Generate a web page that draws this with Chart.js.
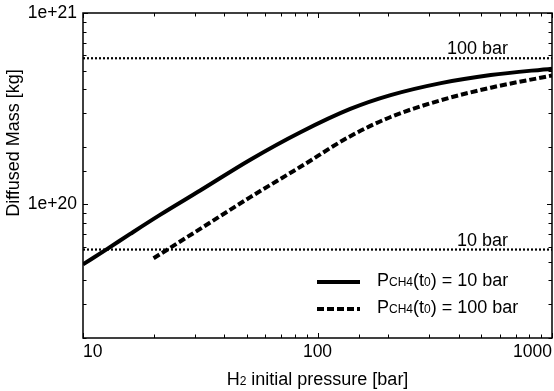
<!DOCTYPE html>
<html>
<head>
<meta charset="utf-8">
<script src="https://cdn.jsdelivr.net/npm/chart.js@4"></script>
<style>
  body { margin: 0; background: #fff; }
</style>
</head>
<body>
<canvas id="chart" width="554" height="391"></canvas>
<script>
// H2 initial pressure [bar] vs diffused mass [kg]
const pressureLow = [10, 12.7, 15.9, 21.3, 31.6, 51.7, 84.6, 138, 205, 336, 548, 1000];
const massLow = [4.85e19, 5.85e19, 7.0e19, 8.8e19, 1.18e20, 1.71e20, 2.38e20, 3.15e20, 3.72e20, 4.3e20, 4.74e20, 5.12e20];
const pressureHigh = [20, 31.6, 51.7, 84.6, 138, 205, 336, 548, 1000];
const massHigh = [5.22e19, 7.44e19, 1.09e20, 1.57e20, 2.27e20, 2.86e20, 3.5e20, 4.07e20, 4.71e20];

const refLevels = [5.8e20, 5.8e19];
const refLabels = ["100 bar", "10 bar"];

// legend text pieces: [text, small?]
const legendLow = [["P", 0], ["CH4", 1], ["(t", 0], ["0", 1], [") = 10 bar", 0]];
const legendHigh = [["P", 0], ["CH4", 1], ["(t", 0], ["0", 1], [") = 100 bar", 0]];
const xTitle = [["H", 0], ["2", 1], [" initial pressure [bar]", 0]];
const yTitle = "Diffused Mass [kg]";

const FONT = '"Liberation Sans", Arial, Helvetica, sans-serif';

const isPow10 = v => {
  const l = Math.log10(v);
  return Math.abs(l - Math.round(l)) < 1e-6;
};

const pts = (xs, ys) => xs.map((x, i) => ({ x, y: ys[i] }));

function drawPieces(ctx, pieces, x, y, align) {
  const big = "18px " + FONT, small = "12px " + FONT;
  let w = 0;
  pieces.forEach(([t, s]) => { ctx.font = s ? small : big; w += ctx.measureText(t).width; });
  let cx = align === "center" ? x - w / 2 : x;
  ctx.textAlign = "left";
  ctx.textBaseline = "alphabetic";
  pieces.forEach(([t, s]) => {
    ctx.font = s ? small : big;
    ctx.fillText(t, cx, y);
    cx += ctx.measureText(t).width;
  });
}

const decor = {
  id: "decor",
  afterDraw(chart) {
    const ctx = chart.ctx;
    const a = chart.chartArea;
    const xs = chart.scales.x, ys = chart.scales.y;
    ctx.save();
    ctx.strokeStyle = "#000";
    ctx.fillStyle = "#000";

    // frame
    ctx.lineWidth = 1.5;
    ctx.strokeRect(a.left, a.top, a.right - a.left, a.bottom - a.top);

    // inward tick marks on all sides
    ctx.lineWidth = 1;
    ctx.beginPath();
    xs.ticks.forEach(t => {
      const p = Math.round(xs.getPixelForValue(t.value)) + 0.5;
      const len = isPow10(t.value) ? 5 : 3.5;
      ctx.moveTo(p, a.bottom); ctx.lineTo(p, a.bottom - len);
      ctx.moveTo(p, a.top); ctx.lineTo(p, a.top + len);
    });
    ys.ticks.forEach(t => {
      const p = Math.round(ys.getPixelForValue(t.value)) + 0.5;
      const len = isPow10(t.value) ? 5 : 3.5;
      ctx.moveTo(a.left, p); ctx.lineTo(a.left + len, p);
      ctx.moveTo(a.right, p); ctx.lineTo(a.right - len, p);
    });
    ctx.stroke();

    // reference line labels
    ctx.font = "18px " + FONT;
    ctx.textAlign = "right";
    ctx.textBaseline = "alphabetic";
    refLevels.forEach((lv, i) => {
      ctx.fillText(refLabels[i], a.right - 44, ys.getPixelForValue(lv) - 4);
    });

    // legend
    const rows = [[legendLow, []], [legendHigh, [7, 3]]];
    rows.forEach(([pieces, dash], i) => {
      const y = a.bottom - 56 + i * 27;
      ctx.setLineDash(dash);
      ctx.lineWidth = 4;
      ctx.beginPath();
      ctx.moveTo(a.right - 235, y);
      ctx.lineTo(a.right - 192, y);
      ctx.stroke();
      ctx.setLineDash([]);
      drawPieces(ctx, pieces, a.right - 175, y + 3.5, "left");
    });

    // axis titles
    drawPieces(ctx, xTitle, (a.left + a.right) / 2, 385, "center");
    ctx.translate(19, 143);
    ctx.rotate(-Math.PI / 2);
    ctx.font = "18px " + FONT;
    ctx.textAlign = "center";
    ctx.textBaseline = "alphabetic";
    ctx.fillText(yTitle, 0, 0);
    ctx.restore();
  }
};

const refSet = lv => ({
  data: pts([10, 1000], [lv, lv]),
  borderColor: "#000",
  borderWidth: 2.2,
  borderDash: [2, 2],
  pointRadius: 0,
  fill: false
});

new Chart(document.getElementById("chart"), {
  type: "line",
  data: {
    datasets: [
      refSet(refLevels[0]),
      refSet(refLevels[1]),
      {
        data: pts(pressureLow, massLow),
        borderColor: "#000",
        borderWidth: 4,
        pointRadius: 0,
        cubicInterpolationMode: "monotone",
        fill: false
      },
      {
        data: pts(pressureHigh, massHigh),
        borderColor: "#000",
        borderWidth: 4,
        borderDash: [7, 3],
        pointRadius: 0,
        cubicInterpolationMode: "monotone",
        fill: false
      }
    ]
  },
  options: {
    responsive: false,
    animation: false,
    layout: { padding: { top: 13, right: 2, bottom: 0, left: 0 } },
    plugins: {
      legend: { display: false },
      tooltip: { enabled: false }
    },
    scales: {
      x: {
        type: "logarithmic",
        min: 10,
        max: 1000,
        grid: { display: false, drawTicks: false },
        border: { display: false },
        ticks: {
          autoSkip: false,
          maxRotation: 0,
          align: "inner",
          padding: 4,
          color: "#000",
          font: { family: FONT, size: 17.5 },
          callback: v => isPow10(v) ? String(Math.round(v)) : ""
        },
        afterFit(s) { s.height = 53; s.paddingLeft = 0; s.paddingRight = 0; }
      },
      y: {
        type: "logarithmic",
        min: 2e19,
        max: 1e21,
        grid: { display: false, drawTicks: false },
        border: { display: false },
        ticks: {
          autoSkip: false,
          padding: 6,
          color: "#000",
          font: { family: FONT, size: 17.5 },
          callback: v => isPow10(v) ? v.toExponential(0) : ""
        },
        afterFit(s) { s.width = 83; s.paddingTop = 0; s.paddingBottom = 0; }
      }
    }
  },
  plugins: [decor]
});
</script>
</body>
</html>
